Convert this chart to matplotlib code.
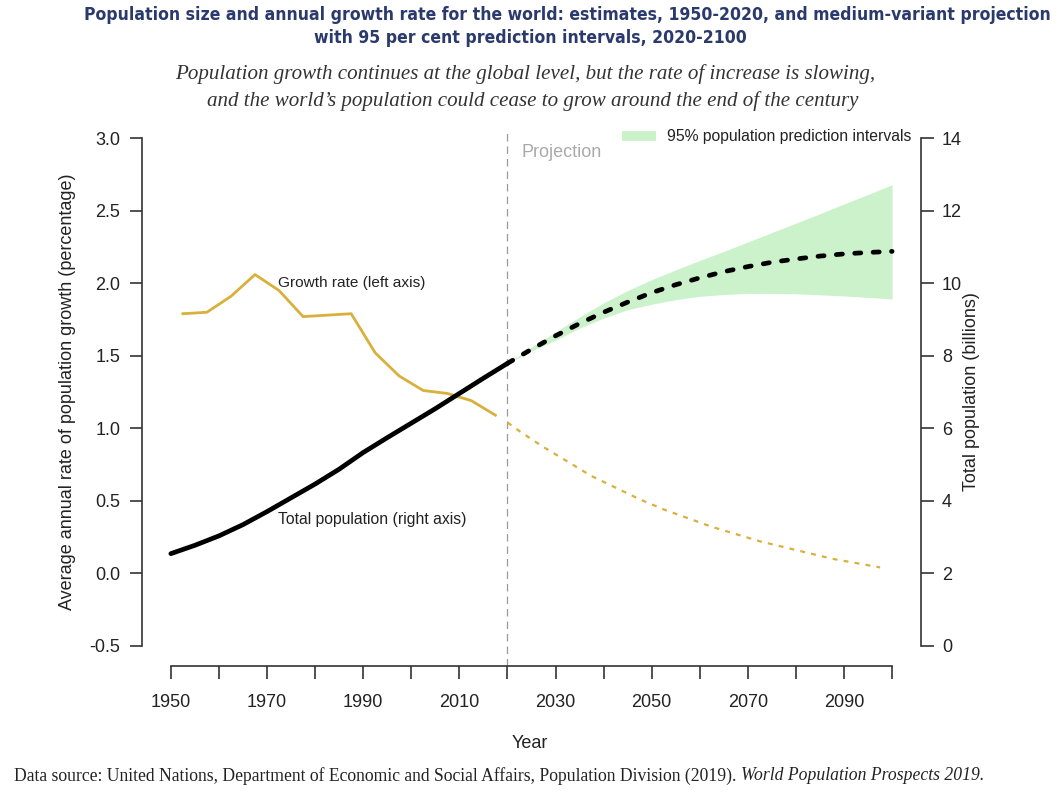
import matplotlib
matplotlib.use("Agg")
import matplotlib.pyplot as plt
from matplotlib import font_manager as fm
from matplotlib.patches import Patch

# ---------------- data ----------------
pop_years_hist = [1950, 1955, 1960, 1965, 1970, 1975, 1980, 1985, 1990, 1995, 2000, 2005, 2010, 2015, 2020]
pop_hist = [2.54, 2.77, 3.03, 3.34, 3.70, 4.08, 4.46, 4.87, 5.33, 5.74, 6.14, 6.54, 6.96, 7.38, 7.79]

pop_years_proj = [2020, 2025, 2030, 2035, 2040, 2045, 2050, 2055, 2060, 2065, 2070, 2075, 2080, 2085, 2090, 2095, 2100]
pop_proj = [7.79, 8.18, 8.55, 8.89, 9.20, 9.48, 9.74, 9.96, 10.15, 10.32, 10.46, 10.58, 10.67, 10.75, 10.81, 10.85, 10.88]
pi_lower = [7.79, 8.13, 8.43, 8.76, 9.04, 9.27, 9.42, 9.55, 9.64, 9.69, 9.72, 9.72, 9.71, 9.68, 9.65, 9.61, 9.57]
pi_upper = [7.80, 8.24, 8.66, 9.07, 9.46, 9.80, 10.10, 10.37, 10.63, 10.88, 11.14, 11.40, 11.66, 11.92, 12.19, 12.45, 12.72]

growth_years_hist = [1952.5, 1957.5, 1962.5, 1967.5, 1972.5, 1977.5, 1982.5, 1987.5, 1992.5, 1997.5,
                     2002.5, 2007.5, 2012.5, 2017.5]
growth_hist = [1.79, 1.80, 1.91, 2.06, 1.95, 1.77, 1.78, 1.79, 1.52, 1.36, 1.26, 1.24, 1.19, 1.09]
growth_years_proj = [2020, 2022.5, 2027.5, 2032.5, 2037.5, 2042.5, 2047.5, 2052.5, 2057.5, 2062.5,
                     2067.5, 2072.5, 2077.5, 2082.5, 2087.5, 2092.5, 2097.5]
growth_proj = [1.04, 0.98, 0.87, 0.77, 0.67, 0.59, 0.51, 0.44, 0.38, 0.32, 0.27, 0.22, 0.18, 0.14, 0.10, 0.07, 0.04]

x_ticks = list(range(1950, 2101, 10))
x_ticklabels = ["1950", "", "1970", "", "1990", "", "2010", "", "2030", "", "2050", "", "2070", "", "2090", ""]
left_ticks = [-0.5, 0.0, 0.5, 1.0, 1.5, 2.0, 2.5, 3.0]
left_ticklabels = ["-0.5", "0.0", "0.5", "1.0", "1.5", "2.0", "2.5", "3.0"]
right_ticks = [0, 2, 4, 6, 8, 10, 12, 14]

title_lines = ["Population size and annual growth rate for the world: estimates, 1950-2020, and medium-variant projection",
               "with 95 per cent prediction intervals, 2020-2100"]
subtitle_lines = ["Population growth continues at the global level, but the rate of increase is slowing,",
                  "and the world\u2019s population could cease to grow around the end of the century"]
source_plain = "Data source: United Nations, Department of Economic and Social Affairs, Population Division (2019). "
source_italic = "World Population Prospects 2019."

# ---------------- fonts ----------------
names = {f.name for f in fm.fontManager.ttflist}
SANS = "Liberation Sans" if "Liberation Sans" in names else "DejaVu Sans"
SERIF = "Liberation Serif" if "Liberation Serif" in names else "DejaVu Serif"
if "Liberation Sans Narrow" in names:
    TITLE_FONT = dict(family="Liberation Sans Narrow", weight="bold")
else:
    TITLE_FONT = dict(family="DejaVu Sans", weight="bold", stretch="condensed")
plt.rcParams["font.family"] = SANS

W, H = 1063, 802
fig = plt.figure(figsize=(W / 100, H / 100), dpi=100)
fig.patch.set_facecolor("white")

def px(x, y):
    return x / W, 1 - y / H

# axes box in pixels: x 142..921, y 118..666
ax = fig.add_axes([142 / W, 1 - 666 / H, (921 - 142) / W, (666 - 118) / H])
ax.set_xlim(1944, 2106)
ax.set_ylim(-0.64, 3.14)
ax2 = ax.twinx()
ax2.set_ylim(4 * -0.64 + 2, 4 * 3.14 + 2)

GOLD = "#d9b03c"
GREEN = "#ccf2cc"
AXC = "#333333"
TXT = "#222222"

# band
ax2.fill_between(pop_years_proj, pi_lower, pi_upper, color=GREEN, linewidth=0, zorder=1)
# growth
ax.plot(growth_years_hist, growth_hist, color=GOLD, lw=2.0, solid_joinstyle="round", zorder=3)
ax.plot(growth_years_proj, growth_proj, color=GOLD, lw=1.6, linestyle=(0, (2.2, 2.8)), zorder=3)
# projection divider
ax.axvline(2020, ymin=0, ymax=(3.06 + 0.64) / 3.78, color="#9a9a9a", lw=0.9, linestyle=(0, (6, 4)), zorder=2)
# population
ax2.plot(pop_years_hist, pop_hist, color="black", lw=3.4, solid_capstyle="round", zorder=4)
ax2.plot(pop_years_proj, pop_proj, color="black", lw=3.4, linestyle=(0, (1.3, 2.6)),
         dash_capstyle="round", zorder=4)

# spines / ticks
for a in (ax, ax2):
    a.spines["top"].set_visible(False)
ax.spines["right"].set_visible(False)
ax2.spines["left"].set_visible(False)
ax2.spines["bottom"].set_visible(False)
ax.spines["left"].set_bounds(-0.5, 3.0)
ax.spines["bottom"].set_bounds(1950, 2100)
ax2.spines["right"].set_bounds(0, 14)
for sp in (ax.spines["left"], ax.spines["bottom"], ax2.spines["right"]):
    sp.set_color(AXC)
    sp.set_linewidth(1.2)

ax.set_xticks(x_ticks)
ax.set_xticklabels(x_ticklabels)
ax.set_yticks(left_ticks)
ax.set_yticklabels(left_ticklabels)
ax2.set_yticks(right_ticks)
ax2.set_yticklabels([str(v) for v in right_ticks])
ax.tick_params(axis="x", direction="out", length=9, width=1.2, color=AXC, labelcolor=TXT,
               labelsize=13, pad=11)
ax.tick_params(axis="y", direction="out", length=8.5, width=1.2, color=AXC, labelcolor=TXT,
               labelsize=13, pad=7)
ax2.tick_params(axis="y", direction="out", length=9, width=1.2, color=AXC, labelcolor=TXT,
                labelsize=13, pad=6)

# in-plot labels
ax.text(1972.3, 2.0, "Growth rate (left axis)", fontsize=11.1, color=TXT, va="center", ha="left", zorder=5)
ax.text(1972.3, 0.373, "Total population (right axis)", fontsize=11.3, color=TXT, va="center", ha="left", zorder=5)
ax.text(2023.0, 2.905, "Projection", fontsize=13, color="#aaaaaa", va="center", ha="left")

handle = Patch(facecolor=GREEN, edgecolor="none", label="95% population prediction intervals")
leg = ax.legend(handles=[handle], loc="center left", bbox_to_anchor=((622 - 142) / 779, (666 - 137) / 548),
                frameon=False, fontsize=11.3, handlelength=2.15, handleheight=0.65, handletextpad=0.7,
                borderpad=0, borderaxespad=0)
for t in leg.get_texts():
    t.set_color(TXT)

# axis labels
fig.text(*px(68, 392), "Average annual rate of population growth (percentage)", rotation=90,
         ha="center", va="center", fontsize=13, color=TXT)
fig.text(*px(972, 392), "Total population (billions)", rotation=90,
         ha="center", va="center", fontsize=13, color=TXT)
fig.text(*px(530, 743), "Year", ha="center", va="center", fontsize=13, color=TXT)

# titles
TCOL = "#2b3a6c"
t1 = fig.text(*px(567, 15), title_lines[0], ha="center", va="center", fontsize=13, color=TCOL, **TITLE_FONT)
t2 = fig.text(*px(530, 38), title_lines[1], ha="center", va="center", fontsize=13, color=TCOL, **TITLE_FONT)
s1 = fig.text(*px(525, 74), subtitle_lines[0], ha="center", va="center", fontsize=14, color="#333333",
              family=SERIF, style="italic")
s2 = fig.text(*px(533, 101), subtitle_lines[1], ha="center", va="center", fontsize=14, color="#333333",
              family=SERIF, style="italic")
f1 = fig.text(*px(14, 776), source_plain, ha="left", va="center", fontsize=11, color=TXT, family=SERIF)
f2 = fig.text(*px(14, 776), source_italic, ha="left", va="center", fontsize=11, color=TXT,
              family=SERIF, style="italic")

fig.canvas.draw()
r = fig.canvas.get_renderer()

def fit(t, target):
    w = t.get_window_extent(r).width
    t.set_fontsize(t.get_fontsize() * target / w)

fit(t1, 961)
t2.set_fontsize(t1.get_fontsize())
fit(s1, 699)
s2.set_fontsize(s1.get_fontsize())
# footer total width 971
w1 = f1.get_window_extent(r).width
w2 = f2.get_window_extent(r).width
scale = 971 / (w1 + w2)
f1.set_fontsize(f1.get_fontsize() * scale)
f2.set_fontsize(f2.get_fontsize() * scale)
fig.canvas.draw()
w1 = f1.get_window_extent(r).width
f2.set_position(px(14 + w1, 776))

fig.savefig("out.png", dpi=100, facecolor="white")
